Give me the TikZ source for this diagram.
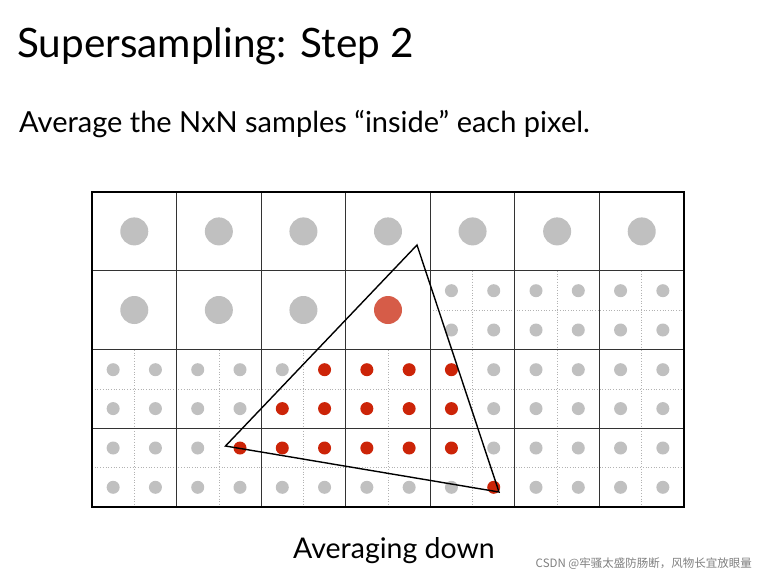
\documentclass[tikz,border=0pt]{standalone}
\usepackage{fontspec}
\setmainfont{Lato}
\newfontfamily\cjk{Noto Sans CJK SC}
\definecolor{bigredc}{RGB}{214,92,72}
\definecolor{smallredc}{RGB}{204,36,8}
\definecolor{dotgray}{RGB}{192,192,192}
\begin{document}
\begin{tikzpicture}[x=1pt,y=-1pt,
  gridline/.style={draw=black!80,line width=1.1pt},
  subline/.style={draw=black!30,dotted,line width=0.7pt},
  bigdot/.style={circle,fill=dotgray,minimum size=28pt,inner sep=0pt},
  bigred/.style={circle,fill=bigredc,minimum size=28pt,inner sep=0pt},
  smalldot/.style={circle,fill=dotgray,minimum size=13pt,inner sep=0pt},
  reddot/.style={circle,fill=smallredc,minimum size=13pt,inner sep=0pt},
  tri/.style={draw=black,line width=1.4pt,line join=miter}]
\useasboundingbox (0,0) rectangle (767,578);
\fill[white] (0,0) rectangle (767,578);
\def\cw{84.571}
\def\rh{78.75}
% dotted subdivision lines
\foreach \c in {0,...,6}{
  \pgfmathsetmacro\xm{92+\cw*\c+\cw/2}
  \draw[subline] (\xm,350) -- (\xm,507);
}
\foreach \c in {4,5,6}{
  \pgfmathsetmacro\xm{92+\cw*\c+\cw/2}
  \draw[subline] (\xm,271) -- (\xm,350);
}
\draw[subline] (92,389.4) -- (684,389.4);
\draw[subline] (92,467.6) -- (684,467.6);
\draw[subline] (430.3,310.5) -- (684,310.5);
% big dots
\foreach \c in {0,...,6}{
  \pgfmathsetmacro\xm{92+\cw*\c+\cw/2}
  \node[bigdot] (b1\c) at (\xm,231.4) {};
}
\foreach \c in {0,1,2}{
  \pgfmathsetmacro\xm{92+\cw*\c+\cw/2}
  \node[bigdot] (b2\c) at (\xm,310) {};
}
\node[bigred] (b23) at (388,310) {};
% small dots in row 2
\foreach \c in {4,5,6}{
  \foreach \i in {0,1}{
    \pgfmathsetmacro\xs{92+\cw*\c+\cw/4+\cw/2*\i}
    \node[smalldot] (s1\c\i) at (\xs,290.7) {};
    \node[smalldot] (s2\c\i) at (\xs,330) {};
  }
}
% rows 3-4 : 14 sub-columns, 4 sub-rows
\foreach \k in {0,...,13}{
  \pgfmathsetmacro\xs{92+\cw/4+\cw/2*\k}
  \pgfmathsetmacro\ra{(\k>=5 && \k<=8) ? 1 : 0}
  \pgfmathsetmacro\rb{(\k>=4 && \k<=8) ? 1 : 0}
  \pgfmathsetmacro\rc{(\k>=3 && \k<=8) ? 1 : 0}
  \pgfmathsetmacro\rd{(\k==9) ? 1 : 0}
  \ifdim\ra pt>0.5pt \node[reddot] (pa\k) at (\xs,369.7) {}; \else \node[smalldot] (pa\k) at (\xs,369.7) {}; \fi
  \ifdim\rb pt>0.5pt \node[reddot] (pb\k) at (\xs,408.6) {}; \else \node[smalldot] (pb\k) at (\xs,408.6) {}; \fi
  \ifdim\rc pt>0.5pt \node[reddot] (pc\k) at (\xs,448) {}; \else \node[smalldot] (pc\k) at (\xs,448) {}; \fi
  \ifdim\rd pt>0.5pt \node[reddot] (pd\k) at (\xs,487.3) {}; \else \node[smalldot] (pd\k) at (\xs,487.3) {}; \fi
}
% grid
\foreach \c in {1,...,6}{
  \pgfmathsetmacro\xm{92+\cw*\c}
  \draw[gridline] (\xm,192) -- (\xm,507);
}
\foreach \r in {1,2,3}{
  \pgfmathsetmacro\ym{192+\rh*\r}
  \draw[gridline] (92,\ym) -- (684,\ym);
}
\draw[draw=black,line width=1.2pt] (92,192) rectangle (684,507);
% triangle
\coordinate (t1) at (417,245);
\coordinate (t2) at (225.5,446);
\coordinate (t3) at (499,492);
\draw[tri] (t1) -- (t2) -- (t3) -- cycle;
% texts
\node[anchor=base west,font=\fontsize{40.5}{46}\selectfont,inner sep=0pt] (title) at (17,57) {Supersampling: Step 2};
\node[anchor=base west,font=\fontsize{29}{34}\selectfont,inner sep=0pt] (sub) at (19,132) {Average the NxN samples “inside” each pixel.};
\node[anchor=base,font=\fontsize{28.5}{33}\selectfont,inner sep=0pt] (cap) at (394,558) {Averaging down};
\node[anchor=base east,font=\cjk\fontsize{11.5}{13}\selectfont,text=black!50,inner sep=0pt] (wm) at (752,567) {CSDN @牢骚太盛防肠断，风物长宜放眼量};
\end{tikzpicture}
\end{document}
